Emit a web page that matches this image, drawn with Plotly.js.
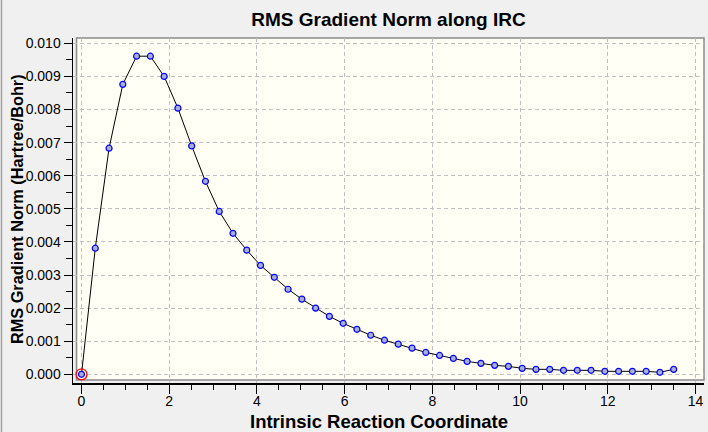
<!DOCTYPE html>
<html>
<head>
<meta charset="utf-8">
<script src="https://cdn.plot.ly/plotly-3.0.1.min.js"></script>
<style>
  html, body { margin: 0; padding: 0; background: #f0f0f0; }
  #chart { width: 708px; height: 432px; }
</style>
</head>
<body>
<div id="chart"></div>
<script>
// IRC coordinate of every step (amu^1/2 Bohr)
const ircCoord = [
    0.000, 0.314, 0.628, 0.942, 1.256, 1.570, 1.884, 2.198, 2.512, 2.826,
    3.140, 3.454, 3.768, 4.082, 4.396, 4.710, 5.024, 5.338, 5.652, 5.966,
    6.280, 6.594, 6.908, 7.222, 7.536, 7.850, 8.164, 8.478, 8.792, 9.106,
    9.420, 9.734, 10.048, 10.362, 10.676, 10.990, 11.304, 11.618, 11.932, 12.246,
    12.560, 12.874, 13.188, 13.502,
];
// RMS gradient norm (Hartree/Bohr)
const rmsGrad = [
    0.00000, 0.00381, 0.00683, 0.00876, 0.00961, 0.00961, 0.00900, 0.00804, 0.00690, 0.00583,
    0.00492, 0.00426, 0.00375, 0.00329, 0.00293, 0.00257, 0.00227, 0.00200, 0.00175, 0.00154,
    0.00136, 0.00118, 0.00103, 0.00091, 0.00079, 0.00066, 0.00057, 0.00048, 0.00039, 0.00033,
    0.00027, 0.00024, 0.00018, 0.00015, 0.00015, 0.00012, 0.00012, 0.00012, 0.00009, 0.00009,
    0.00009, 0.00009, 0.00006, 0.00015,
];
// currently selected point (highlighted in red)
const selIndex = 0;

const FONT = 'Liberation Sans, Arial, sans-serif';
const tickFont = { family: FONT, size: 14, color: '#000000' };

const gradTrace = {
    x: ircCoord,
    y: rmsGrad,
    type: 'scatter',
    mode: 'lines+markers',
    line: { color: '#000000', width: 1 },
    marker: {
        symbol: 'circle',
        size: 6,
        color: '#a9b0cf',
        line: { color: '#0000ff', width: 1.2 },
    },
    hoverinfo: 'x+y',
};
const selTrace = {
    x: [ircCoord[selIndex]],
    y: [rmsGrad[selIndex]],
    type: 'scatter',
    mode: 'markers',
    marker: {
        symbol: 'circle-open',
        size: 11,
        color: '#ff0000',
        line: { color: '#ff0000', width: 1.3 },
    },
    hoverinfo: 'skip',
};

const layout = {
    width: 708,
    height: 432,
    showlegend: false,
    paper_bgcolor: '#f0f0f0',
    plot_bgcolor: '#f0f0f0',
    margin: { l: 73, r: 4, t: 38, b: 49, pad: 0 },
    title: {
        text: 'RMS Gradient Norm along IRC',
        font: { family: FONT, size: 19, color: '#000000', weight: 'bold' },
        x: 0.5,
        xref: 'paper',
        xanchor: 'center',
        y: 1 - 19 / 432,
        yanchor: 'middle',
    },
    xaxis: {
        range: [-0.194, 14.193],
        dtick: 2,
        tick0: 0,
        ticks: 'outside',
        ticklen: 9,
        tickcolor: '#000000',
        tickfont: tickFont,
        ticklabelstandoff: -4,
        showline: true,
        linecolor: '#000000',
        linewidth: 1.5,
        showgrid: true,
        gridcolor: '#c0c0c0',
        griddash: '4px,3px',
        zeroline: false,
        minor: { dtick: 0.5, tick0: 0, ticks: 'outside', ticklen: 5, tickcolor: '#000000', showgrid: false },
        fixedrange: true,
    },
    yaxis: {
        range: [-0.000263, 0.01016],
        dtick: 0.001,
        tick0: 0,
        tickformat: '.3f',
        ticks: 'outside',
        ticklen: 8,
        tickcolor: '#000000',
        tickfont: tickFont,
        showline: true,
        linecolor: '#000000',
        linewidth: 1.5,
        showgrid: true,
        gridcolor: '#c0c0c0',
        griddash: '4px,3px',
        zeroline: false,
        minor: { dtick: 0.0005, tick0: 0, ticks: 'outside', ticklen: 6, tickcolor: '#000000', showgrid: false },
        fixedrange: true,
    },
    // axis titles as annotations so they can sit where the original has them
    annotations: [
        {
            text: 'Intrinsic Reaction Coordinate',
            xref: 'paper',
            yref: 'paper',
            x: (378.5 - 73) / 631,
            y: -(421 - 383) / 345,
            xanchor: 'center',
            yanchor: 'middle',
            showarrow: false,
            font: { family: FONT, size: 18.5, color: '#000000', weight: 'bold' },
        },
        {
            text: 'RMS Gradient Norm (Hartree/Bohr)',
            xref: 'paper',
            yref: 'paper',
            x: (17 - 73) / 631,
            y: (383 - 209) / 345,
            xanchor: 'center',
            yanchor: 'middle',
            textangle: -90,
            showarrow: false,
            font: { family: FONT, size: 16.3, color: '#000000', weight: 'bold' },
        },
    ],
    shapes: [
        // plot frame sits a little inside the axis lines
        {
            type: 'rect',
            xref: 'paper',
            yref: 'paper',
            x0: 3.5 / 631,
            x1: 1,
            y0: 3 / 345,
            y1: 1,
            fillcolor: '#fffff6',
            line: { color: '#8a8a8a', width: 1.5 },
            layer: 'below',
        },
        // window edge on the left
        {
            type: 'line',
            xref: 'paper',
            yref: 'paper',
            x0: -71.5 / 631,
            x1: -71.5 / 631,
            y0: -49 / 345,
            y1: 1 + 38 / 345,
            line: { color: '#a0a0a0', width: 1.5 },
        },
    ],
};

try {
    Plotly.newPlot('chart', [gradTrace, selTrace], layout, { displayModeBar: false, staticPlot: true });
} catch (e) {
    console.log(e);
}
</script>
</body>
</html>
